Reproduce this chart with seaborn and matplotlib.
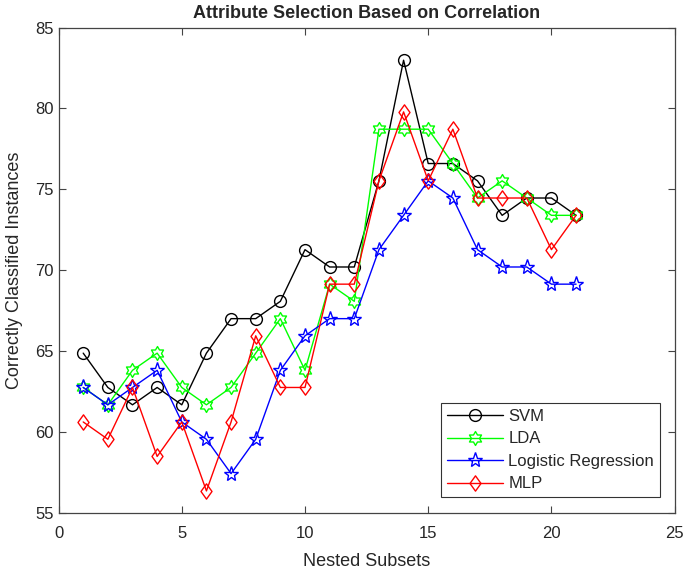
import numpy as np
import pandas as pd
import seaborn as sns
import matplotlib.pyplot as plt
from matplotlib.path import Path

subsets = list(range(1, 22))

svm = [64.89, 62.77, 61.70, 62.77, 61.70, 64.89, 67.02, 67.02, 68.09, 71.28, 70.21,
       70.21, 75.53, 82.98, 76.60, 76.60, 75.53, 73.40, 74.47, 74.47, 73.40]
lda = [62.77, 61.70, 63.83, 64.89, 62.77, 61.70, 62.77, 64.89, 67.02, 63.83, 69.15,
       68.09, 78.72, 78.72, 78.72, 76.60, 74.47, 75.53, 74.47, 73.40, 73.40]
logreg = [62.77, 61.70, 62.77, 63.83, 60.64, 59.57, 57.45, 59.57, 63.83, 65.96, 67.02,
          67.02, 71.28, 73.40, 75.53, 74.47, 71.28, 70.21, 70.21, 69.15, 69.15]
mlp = [60.64, 59.57, 62.77, 58.51, 60.64, 56.38, 60.64, 65.96, 62.77, 62.77, 69.15,
       69.15, 75.53, 79.79, 75.53, 78.72, 74.47, 74.47, 74.47, 71.28, 73.40]

sns.set_style("ticks")
plt.rcParams['font.family'] = ['Liberation Sans', 'DejaVu Sans']

# hexagram marker (six-pointed star outline, like matlab 'h')
ang = np.deg2rad(np.arange(12) * 30 + 90)
rad = np.where(np.arange(12) % 2 == 0, 1.0, 0.58)
hexa = Path(np.column_stack([rad * np.cos(ang), rad * np.sin(ang)]).tolist() + [[0, 1.0]],
            [Path.MOVETO] + [Path.LINETO] * 11 + [Path.CLOSEPOLY])
# matlab style diamond, a bit taller than wide
diam = Path([[0, 1], [0.72, 0], [0, -1], [-0.72, 0], [0, 1]],
            [Path.MOVETO, Path.LINETO, Path.LINETO, Path.LINETO, Path.CLOSEPOLY])

series = [("SVM", svm, "black", "o", 8.5),
          ("LDA", lda, "#00ff00", hexa, 10),
          ("Logistic Regression", logreg, "blue", "*", 11),
          ("MLP", mlp, "red", diam, 11)]

fig = plt.figure(figsize=(6.85, 5.79), dpi=100)
ax = fig.add_axes([0.0855, 0.1135, 0.8994, 0.839])

for name, vals, col, mk, ms in series:
    df = pd.DataFrame({"x": subsets, "y": vals})
    sns.lineplot(data=df, x="x", y="y", ax=ax, color=col, marker=mk, markersize=ms,
                 markerfacecolor="none", markeredgecolor=col, markeredgewidth=1.0,
                 linewidth=1.0, label=name)

ax.set_xlim(0, 25)
ax.set_ylim(55, 85)
ax.set_xticks(range(0, 26, 5))
ax.set_yticks(range(55, 86, 5))
ax.tick_params(direction="in", top=True, right=True, labelsize=12, length=5, width=0.8,
               color="#444444")
ax.tick_params(axis="x", pad=9)
for s in ax.spines.values():
    s.set_visible(True)
    s.set_linewidth(0.9)
    s.set_color("#444444")

ax.set_xlabel("Nested Subsets", fontsize=13, labelpad=9)
ax.set_ylabel("Correctly Classified Instances", fontsize=13, labelpad=9)
ax.set_title("Attribute Selection Based on Correlation", fontsize=13, fontweight="bold", pad=7)

leg = ax.legend(loc="lower right", bbox_to_anchor=(0.976, 0.033), fontsize=12,
                frameon=True, fancybox=False, edgecolor="black", handlelength=3.4,
                borderpad=0.35, labelspacing=0.45, handletextpad=0.3, borderaxespad=0)
leg.get_frame().set_linewidth(0.8)

fig.savefig("out.png", dpi=100)
